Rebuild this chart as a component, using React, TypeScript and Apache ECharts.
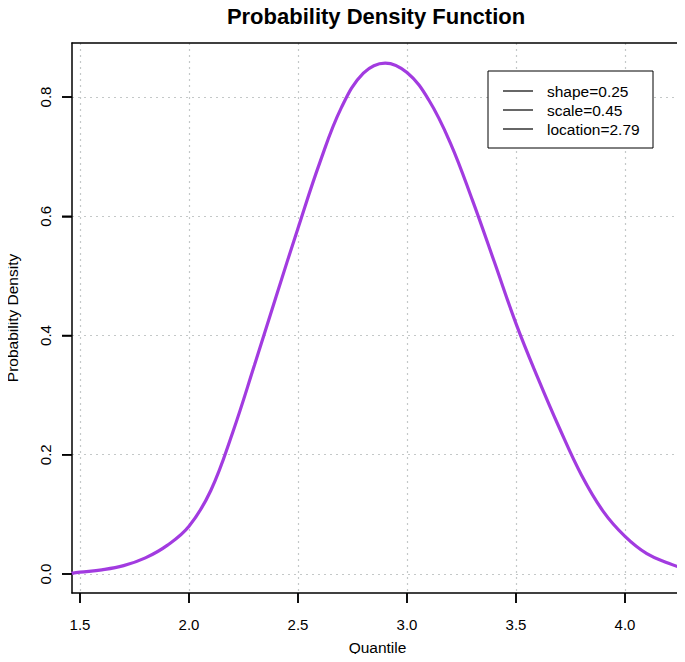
import React, { useEffect, useRef } from "react";
import * as echarts from "echarts";

const xValues = [1.46, 1.5, 1.6, 1.7, 1.8, 1.9, 2.0, 2.1, 2.2, 2.3, 2.4, 2.5, 2.6, 2.7, 2.8, 2.9, 3.0, 3.1, 3.2, 3.3, 3.4, 3.5, 3.6, 3.7, 3.8, 3.9, 4.0, 4.1, 4.2, 4.27];
const densityValues = [0.001, 0.003, 0.007, 0.014, 0.027, 0.048, 0.08, 0.14, 0.237, 0.35, 0.466, 0.58, 0.69, 0.783, 0.84, 0.857, 0.841, 0.795, 0.722, 0.627, 0.524, 0.42, 0.329, 0.244, 0.166, 0.105, 0.063, 0.034, 0.018, 0.009];
const xTicks = [1.5, 2.0, 2.5, 3.0, 3.5, 4.0];
const yTicks = [0.0, 0.2, 0.4, 0.6, 0.8];
const legendLabels = ["shape=0.25", "scale=0.45", "location=2.79"];

const X_MIN = 1.4633;
const X_MAX = 4.266;
const Y_MIN = -0.0319;
const Y_MAX = 0.8906;

const FONT = "'Liberation Sans', Arial, sans-serif";

export default function App() {
  const ref = useRef<HTMLDivElement>(null);
  useEffect(() => {
    if (!ref.current) return;
    const chart = echarts.init(ref.current, null, { renderer: "svg" });
    const legendGraphics: any[] = [
      {
        type: "rect",
        shape: { x: 488, y: 71, width: 165, height: 77 },
        style: { fill: "#ffffff", stroke: "#000000", lineWidth: 1 },
        z: 100,
      },
    ];
    legendLabels.forEach((label, i) => {
      const cy = 91 + i * 19;
      legendGraphics.push({
        type: "line",
        shape: { x1: 503, y1: cy, x2: 533, y2: cy },
        style: { stroke: "#000000", lineWidth: 1.2 },
        z: 101,
      });
      legendGraphics.push({
        type: "text",
        x: 547,
        y: cy,
        style: {
          text: label,
          fill: "#000000",
          font: `15.5px ${FONT}`,
          textVerticalAlign: "middle",
          textAlign: "left",
        },
        z: 101,
      });
    });
    const TICK_LEN = 10;
    const boxLine = { show: true, onZero: false, lineStyle: { color: "#000000", width: 1.5 } };
    const tickStyle = { color: "#000000", width: 1.5 };
    const grid = { type: [2, 4], color: "#c4c8c8", width: 1.2 };
    chart.setOption({
      animation: false,
      backgroundColor: "#ffffff",
      title: {
        text: "Probability Density Function",
        left: 371,
        textAlign: "center",
        top: 0,
        textStyle: { fontFamily: FONT, fontSize: 22, fontWeight: "bold", color: "#000000" },
      },
      grid: {
        left: 72,
        right: 2,
        top: 43,
        bottom: 69,
        outerBoundsMode: "none",
        containLabel: false,
        show: false,
      },
      xAxis: [
        {
          type: "value",
          position: "bottom",
          min: X_MIN,
          max: X_MAX,
          name: "Quantile",
          nameLocation: "middle",
          nameGap: 46,
          nameTextStyle: { fontFamily: FONT, fontSize: 15.5, color: "#000000" },
          axisLine: boxLine,
          axisTick: { show: true, inside: false, customValues: xTicks, length: TICK_LEN, lineStyle: tickStyle },
          axisLabel: {
            show: true,
            customValues: xTicks,
            margin: 24,
            fontFamily: FONT,
            fontSize: 15,
            color: "#000000",
            formatter: (v: number) => v.toFixed(1),
          },
          splitLine: { show: true, lineStyle: grid },
        },
        {
          type: "value",
          position: "top",
          min: X_MIN,
          max: X_MAX,
          axisLine: boxLine,
          axisTick: { show: false },
          axisLabel: { show: false },
          splitLine: { show: false },
        },
      ],
      yAxis: [
        {
          type: "value",
          position: "left",
          min: Y_MIN,
          max: Y_MAX,
          name: "Probability Density",
          nameLocation: "middle",
          nameGap: 52,
          nameTextStyle: { fontFamily: FONT, fontSize: 15.5, color: "#000000" },
          axisLine: boxLine,
          axisTick: { show: true, inside: false, customValues: yTicks, length: TICK_LEN, lineStyle: tickStyle },
          axisLabel: {
            show: true,
            customValues: yTicks,
            rotate: 90,
            margin: 19,
            fontFamily: FONT,
            fontSize: 15,
            color: "#000000",
            formatter: (v: number) => v.toFixed(1),
          },
          splitLine: { show: true, lineStyle: grid },
        },
        {
          type: "value",
          position: "right",
          min: Y_MIN,
          max: Y_MAX,
          axisLine: boxLine,
          axisTick: { show: false },
          axisLabel: { show: false },
          splitLine: { show: false },
        },
      ],
      series: [
        {
          type: "line",
          xAxisIndex: 0,
          yAxisIndex: 0,
          data: xValues.map((x, i) => [x, densityValues[i]]),
          smooth: 0.4,
          showSymbol: false,
          clip: true,
          lineStyle: { color: "#A23BE0", width: 3.2 },
          z: 3,
        },
      ],
      graphic: legendGraphics,
    });

    const tickGraphics: any[] = [];
    xTicks.forEach((x) => {
      const p = chart.convertToPixel({ xAxisIndex: 0, yAxisIndex: 0 }, [x, Y_MIN]) as number[];
      if (p && isFinite(p[0]) && isFinite(p[1])) {
        tickGraphics.push({
          type: "line",
          shape: { x1: p[0], y1: p[1], x2: p[0], y2: p[1] + TICK_LEN },
          style: { stroke: "#000000", lineWidth: 1.5 },
          z: 120,
        });
      }
    });
    yTicks.forEach((y) => {
      const p = chart.convertToPixel({ xAxisIndex: 0, yAxisIndex: 0 }, [X_MIN, y]) as number[];
      if (p && isFinite(p[0]) && isFinite(p[1])) {
        tickGraphics.push({
          type: "line",
          shape: { x1: p[0] - TICK_LEN, y1: p[1], x2: p[0], y2: p[1] },
          style: { stroke: "#000000", lineWidth: 1.5 },
          z: 120,
        });
      }
    });
    chart.setOption({ graphic: [...legendGraphics, ...tickGraphics] });

    return () => chart.dispose();
  }, []);
  return <div ref={ref} style={{ width: 685, height: 662, margin: -8 }} />;
}
